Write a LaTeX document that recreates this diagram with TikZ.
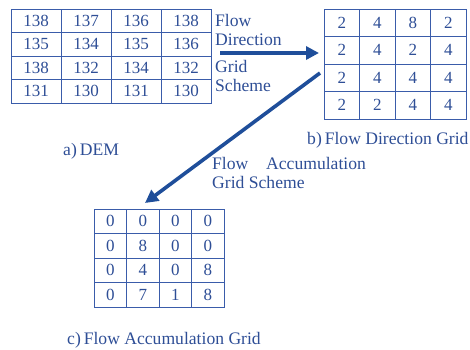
\documentclass[tikz,border=0pt]{standalone}
\usepackage{fontspec}
\setmainfont{Liberation Serif}
\usetikzlibrary{arrows.meta}
\definecolor{txt}{HTML}{2E4E96}
\definecolor{gridc}{HTML}{3A5CAA}
\definecolor{arr}{HTML}{1F4E9A}
\begin{document}
\begin{tikzpicture}[x=1pt,y=-1pt,
  cellA/.style={draw=gridc,line width=1pt,minimum width=50pt,minimum height=23.5pt,inner sep=0pt,outer sep=0pt,text=txt,font=\fontsize{17}{19}\selectfont},
  cellB/.style={cellA,minimum width=35.5pt,minimum height=27.5pt},
  cellC/.style={cellA,minimum width=32.5pt,minimum height=24.5pt},
  lbl/.style={text=txt,font=\fontsize{17.6}{20}\selectfont,inner sep=0pt,anchor=west},
  bigarrow/.style={draw=arr,line width=3.6pt,-{Triangle[length=13pt,width=13pt]}}]
\useasboundingbox (0,0) rectangle (470,349);
% grid a
\foreach \row [count=\i from 0] in {{138,137,136,138},{135,134,135,136},{138,132,134,132},{131,130,131,130}} {
  \foreach \v [count=\j from 0] in \row {
    \node[cellA] (a-\i-\j) at ({36+50*\j},{20.75+23.5*\i}) {\raisebox{-1.5pt}{\v}};
  }
}
% grid b
\foreach \row [count=\i from 0] in {{2,4,8,2},{2,4,2,4},{2,4,4,4},{2,2,4,4}} {
  \foreach \v [count=\j from 0] in \row {
    \node[cellB] (b-\i-\j) at ({341.75+35.5*\j},{22.75+27.5*\i}) {\raisebox{-1.5pt}{\v}};
  }
}
% grid c
\foreach \row [count=\i from 0] in {{0,0,0,0},{0,8,0,0},{0,4,0,8},{0,7,1,8}} {
  \foreach \v [count=\j from 0] in \row {
    \node[cellC] (c-\i-\j) at ({110.25+32.5*\j},{221.25+24.5*\i}) {\raisebox{-1pt}{\v}};
  }
}
% labels
\node[lbl] (f1) at (215,20) {Flow};
\node[lbl] (f2) at (215,40) {Direction};
\node[lbl] (f3) at (215,66) {Grid};
\node[lbl] (f4) at (215,85) {Scheme};
\node[lbl] (g1) at (212,163) {Flow};
\node[lbl] (g2) at (266,163) {Accumulation};
\node[lbl] (g3) at (212,182) {Grid Scheme};
\node[lbl] (la) at (63,151) {a)\,DEM};
\node[lbl] (lb) at (307,140) {b)\,Flow Direction Grid};
\node[lbl] (lc) at (67,340) {c)\,Flow Accumulation Grid};
% arrows
\coordinate (s1) at (220,53);
\coordinate (e1) at (319,53);
\coordinate (s2) at (320,73);
\coordinate (e2) at (145,203);
\draw[bigarrow] (s1) -- (e1);
\draw[bigarrow] (s2) -- (e2);
\end{tikzpicture}
\end{document}
